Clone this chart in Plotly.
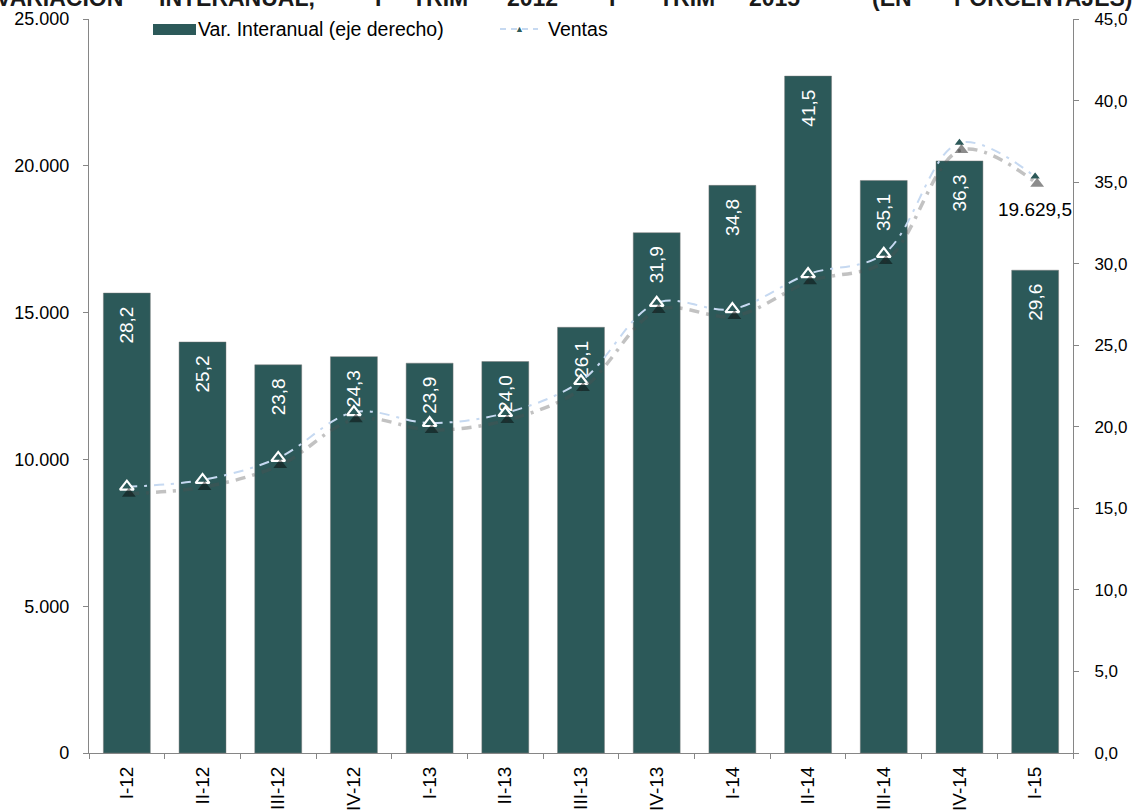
import plotly.graph_objects as go

# ---- data ----
categories = ["I-12", "II-12", "III-12", "IV-12", "I-13", "II-13", "III-13",
              "IV-13", "I-14", "II-14", "III-14", "IV-14", "I-15"]
var_interanual = [28.2, 25.2, 23.8, 24.3, 23.9, 24.0, 26.1, 31.9, 34.8, 41.5, 35.1, 36.3, 29.6]
ventas = [9070, 9300, 10050, 11610, 11240, 11580, 12670, 15330, 15120, 16310, 17000, 20780, 19629.5]
left_ticks = [0, 5000, 10000, 15000, 20000, 25000]
right_ticks = [0, 5, 10, 15, 20, 25, 30, 35, 40, 45]
title_words = ["VARIACIÓN", "INTERANUAL,", "I", "TRIM", "2012", "I", "TRIM", "2015", "(EN", "PORCENTAJES)"]

# ---- geometry / style ----
W, H = 1137, 812
L, R, T, B = 89, 1073, 19, 753
PW, PH = R - L, B - T
FONT = "Liberation Sans, Arial, sans-serif"
BAR = "#2C5959"
LINE = "#C6D9F1"
AXC = "#868686"


def px(x):
    return (x - L) / PW


def py(y):
    return (B - y) / PH


def es_int(v):
    return f"{v:,}".replace(",", ".")


n = len(categories)
xr = [-0.5, n - 0.5]
yl = [0, 25000]
# shadow offset in pixels -> shifted axis ranges
sdx, sdy = 2, 7
xr_sh = [xr[0] - sdx * (xr[1] - xr[0]) / PW, xr[1] - sdx * (xr[1] - xr[0]) / PW]
yl_sh = [yl[0] + sdy * (yl[1] - yl[0]) / PH, yl[1] + sdy * (yl[1] - yl[0]) / PH]

fig = go.Figure()

fig.add_trace(go.Bar(
    x=categories, y=var_interanual, xaxis="x", yaxis="y",
    marker=dict(color=BAR, line=dict(color="rgba(120,120,120,0.45)", width=1)),
    texttemplate="%{y:.1f}\u00a0\u00a0", textposition="inside", insidetextanchor="end",
    textangle=-90, textfont=dict(color="white", size=19, family=FONT),
    showlegend=False, hoverinfo="skip",
))

# shadow of line
fig.add_trace(go.Scatter(
    x=categories, y=ventas, xaxis="x2", yaxis="y2", mode="lines+markers",
    line=dict(color="rgba(80,80,80,0.35)", width=3.5, dash="10px,7px,3px,7px",
              shape="spline", smoothing=1),
    marker=dict(symbol="triangle-up", size=12, color="rgba(0,0,0,0.45)"),
    showlegend=False, hoverinfo="skip",
))

fig.add_trace(go.Scatter(
    x=categories, y=ventas, xaxis="x", yaxis="y3", mode="lines+markers",
    line=dict(color=LINE, width=2, dash="10px,7px,3px,7px", shape="spline", smoothing=1),
    marker=dict(symbol="triangle-up", size=12, color=BAR, line=dict(color="white", width=2.2)),
    showlegend=False, hoverinfo="skip",
))

last = ventas[-1]
last_txt = f"{last:,.1f}".replace(",", "X").replace(".", ",").replace("X", ".")

annotations = [
    dict(x=categories[-1], y=last, xref="x", yref="y3", text=last_txt, showarrow=False,
         yshift=-33, font=dict(size=19, color="black", family=FONT)),
]

# legend (manual)
shapes = [
    dict(type="rect", xref="paper", yref="paper", x0=px(153), x1=px(196), y0=py(35), y1=py(24),
         fillcolor=BAR, line=dict(width=0)),
    dict(type="line", xref="paper", yref="paper", x0=px(500), x1=px(538), y0=py(29), y1=py(29),
         line=dict(color=LINE, width=2, dash="6px,5px")),
]
annotations += [
    dict(x=px(196), y=py(29), xref="paper", yref="paper", xanchor="left", yanchor="middle",
         text="Var. Interanual (eje derecho)", showarrow=False,
         font=dict(size=19.5, color="black", family=FONT)),
    dict(x=px(519), y=py(29), xref="paper", yref="paper", xanchor="center", yanchor="middle",
         text="▲", showarrow=False, font=dict(size=9, color=BAR, family=FONT)),
    dict(x=px(546), y=py(29), xref="paper", yref="paper", xanchor="left", yanchor="middle",
         text="Ventas", showarrow=False, font=dict(size=19.5, color="black", family=FONT)),
]

# clipped title words (the reference is cropped through this line)
word_x = [-6, 157, 373, 410, 505, 607, 657, 747, 870, 1135]
for i, (w, x0) in enumerate(zip(title_words, word_x)):
    annotations.append(dict(x=px(x0), y=py(13), xref="paper", yref="paper",
                            xanchor="right" if i == len(title_words) - 1 else "left",
                            yanchor="bottom", text=w, showarrow=False,
                            font=dict(size=23, color="#1a1a1a", family=FONT, weight="bold")))

fig.update_layout(
    width=W, height=H,
    margin=dict(l=L, r=W - R, t=T, b=H - B),
    paper_bgcolor="white", plot_bgcolor="white",
    separators=",.",
    bargap=0.38,
    showlegend=False,
    font=dict(family=FONT, size=18, color="black"),
    xaxis=dict(type="category", range=xr, showline=True, linecolor=AXC, linewidth=1,
               ticks="outside", tickson="boundaries", ticklen=5, tickcolor=AXC,
               tickangle=-90, tickfont=dict(size=19, color="black"), automargin=False,
               ticklabelstandoff=5, showgrid=False, zeroline=False),
    xaxis2=dict(type="category", range=xr_sh, overlaying="x", visible=False),
    yaxis=dict(side="right", range=[0, 45], tickvals=right_ticks, tickformat=".1f",
               showline=True, linecolor=AXC, linewidth=1, ticks="outside", ticklen=5,
               tickcolor=AXC, tickfont=dict(size=17, color="black"), showgrid=False,
               ticklabelstandoff=12, zeroline=False, automargin=False),
    yaxis2=dict(range=yl_sh, overlaying="y", visible=False),
    yaxis3=dict(side="left", overlaying="y", range=yl, tickvals=left_ticks,
                ticktext=[es_int(v) + "\u2007" for v in left_ticks],
                showline=True, linecolor=AXC, linewidth=1, ticks="outside", ticklen=5,
                tickcolor=AXC, tickfont=dict(size=18, color="black"), showgrid=False,
                zeroline=False, automargin=False),
    shapes=shapes,
    annotations=annotations,
)

fig.write_html("out.html", config={"displayModeBar": False},
               post_script="document.body.style.margin='0';")
